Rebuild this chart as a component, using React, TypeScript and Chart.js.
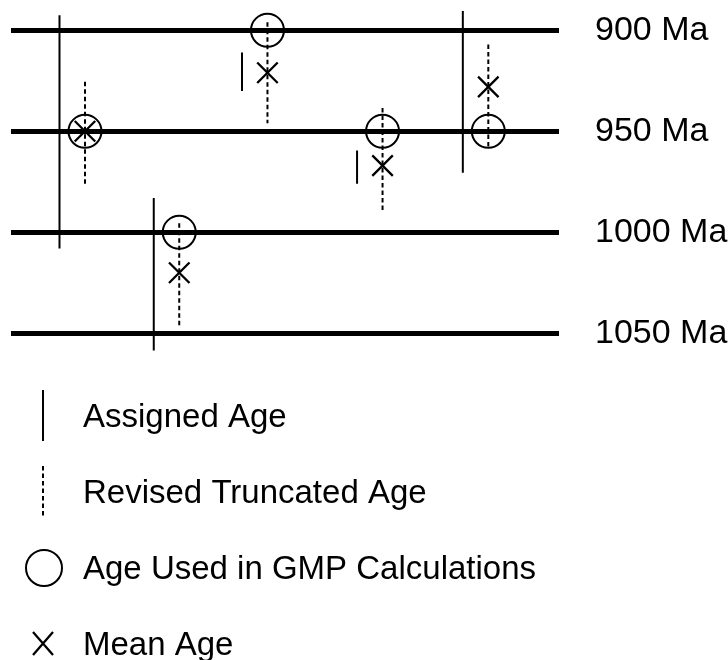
import React, { useEffect, useRef } from "react";
import { Chart, registerables } from "chart.js";

Chart.register(...registerables);

// Horizontal placement of each sample on a 0–100 schematic axis
const samplePositions = [13.5, 30.7, 46.8, 67.8, 87.1];
// Assigned age interval (Ma): younger and older ends
const assignedYoung = [892.5, 983, 911, 959.5, 890.5];
const assignedOld = [1008, 1058.5, 930, 976, 970.5];
// Revised truncated age interval (Ma)
const revisedYoung = [925.5, 995.5, 896, 938.5, 907];
const revisedOld = [976, 1046, 946, 989, 958];
// Age used in the GMP calculations (Ma)
const gmpAge = [950, 1000, 900, 950, 950];
// Mean age (Ma)
const meanAge = [950, 1020, 921, 967, 928];
// Time lines on the age axis (Ma)
const ageTicks = [900, 950, 1000, 1050];
const legendLabels = [
  "Assigned Age",
  "Revised Truncated Age",
  "Age Used in GMP Calculations",
  "Mean Age",
];

const ASSIGNED_SHIFT = 4.65; // assigned-age bar sits just left of the sample
const FONT = '"Liberation Sans", Arial, Helvetica, sans-serif';
const DASH = [4.5, 3];

type Pt = { x: number; y: number | null };

function rangeSegments(xs: number[], lo: number[], hi: number[], dx = 0): Pt[] {
  const pts: Pt[] = [];
  xs.forEach((x, i) => {
    pts.push({ x: x + dx, y: lo[i] }, { x: x + dx, y: hi[i] });
    if (i < xs.length - 1) pts.push({ x: x + dx, y: null });
  });
  return pts;
}

const legendPlugin = {
  id: "ageLegend",
  afterDraw(chart: any) {
    const ctx: CanvasRenderingContext2D = chart.ctx;
    const symX = 43;
    const textX = 83;
    const firstRow = 415.5;
    const rowGap = 76;
    ctx.save();
    ctx.strokeStyle = "#000";
    ctx.fillStyle = "#000";
    ctx.lineCap = "butt";

    const rowY = (i: number) => firstRow + i * rowGap;

    // solid bar
    ctx.lineWidth = 2;
    ctx.setLineDash([]);
    ctx.beginPath();
    ctx.moveTo(symX, rowY(0) - 25.5);
    ctx.lineTo(symX, rowY(0) + 25.5);
    ctx.stroke();

    // dashed bar
    ctx.lineWidth = 2;
    ctx.setLineDash(DASH);
    ctx.beginPath();
    ctx.moveTo(symX, rowY(1) - 25.5);
    ctx.lineTo(symX, rowY(1) + 25.5);
    ctx.stroke();

    // open circle
    ctx.setLineDash([]);
    ctx.lineWidth = 2;
    ctx.beginPath();
    ctx.arc(symX + 1, rowY(2) + 0.5, 18, 0, Math.PI * 2);
    ctx.stroke();

    // cross
    ctx.lineWidth = 2.3;
    ctx.beginPath();
    ctx.moveTo(symX - 10, rowY(3) - 11.5);
    ctx.lineTo(symX + 10, rowY(3) + 11.5);
    ctx.moveTo(symX + 10, rowY(3) - 11.5);
    ctx.lineTo(symX - 10, rowY(3) + 11.5);
    ctx.stroke();

    ctx.font = `33px ${FONT}`;
    ctx.textAlign = "left";
    ctx.textBaseline = "alphabetic";
    legendLabels.forEach((label, i) => {
      ctx.fillText(label, textX, rowY(i) + 11.5);
    });
    ctx.restore();
  },
};

export default function App() {
  const canvasRef = useRef<HTMLCanvasElement | null>(null);

  useEffect(() => {
    document.body.style.margin = "0";
    const canvas = canvasRef.current;
    if (!canvas) return;

    const chart = new Chart(canvas, {
      type: "line",
      data: {
        datasets: [
          {
            label: legendLabels[0],
            data: rangeSegments(samplePositions, assignedYoung, assignedOld, -ASSIGNED_SHIFT),
            borderColor: "#000",
            borderWidth: 2,
            pointRadius: 0,
            spanGaps: false,
            tension: 0,
          },
          {
            label: legendLabels[1],
            data: rangeSegments(samplePositions, revisedYoung, revisedOld),
            borderColor: "#000",
            borderWidth: 2,
            borderDash: DASH,
            pointRadius: 0,
            spanGaps: false,
            tension: 0,
          },
          {
            label: legendLabels[2],
            data: samplePositions.map((x, i) => ({ x, y: gmpAge[i] })),
            showLine: false,
            pointStyle: "circle",
            pointRadius: 16.5,
            pointBorderWidth: 2,
            pointBorderColor: "#000",
            pointBackgroundColor: "rgba(0,0,0,0)",
          },
          {
            label: legendLabels[3],
            data: samplePositions.map((x, i) => ({ x, y: meanAge[i] })),
            showLine: false,
            pointStyle: "crossRot",
            pointRadius: 14.5,
            pointBorderWidth: 2.3,
            pointBorderColor: "#000",
          },
        ],
      },
      options: {
        responsive: false,
        animation: false,
        events: [],
        layout: { autoPadding: false, padding: { left: 11, top: 0, right: 0, bottom: 296.4 } },
        plugins: {
          legend: { display: false },
          tooltip: { enabled: false },
          title: { display: false },
        },
        scales: {
          x: {
            type: "linear",
            min: 0,
            max: 100,
            display: false,
          },
          y: {
            type: "linear",
            position: "right",
            reverse: true,
            min: 885,
            max: 1065,
            afterBuildTicks: (scale: any) => {
              scale.ticks = ageTicks.map((v) => ({ value: v }));
            },
            afterFit: (scale: any) => {
              scale.width = 169;
              scale.paddingTop = 0;
              scale.paddingBottom = 0;
            },
            grid: {
              color: "#000",
              lineWidth: 5,
              drawTicks: false,
            },
            border: { display: false },
            ticks: {
              padding: 36,
              color: "#000",
              font: { family: FONT, size: 34 },
              autoSkip: false,
              callback: (v: any) => `${v} Ma`,
            },
          },
        },
      },
      plugins: [legendPlugin],
    });

    return () => chart.destroy();
  }, []);

  return (
    <div style={{ position: "fixed", left: 0, top: 0, width: 728, height: 660, background: "#fff" }}>
      <canvas ref={canvasRef} width={728} height={660} />
    </div>
  );
}
